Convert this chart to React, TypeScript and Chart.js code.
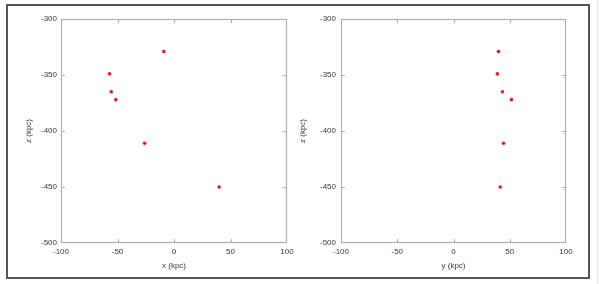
import React, { useEffect, useRef } from "react";
import { Chart, registerables } from "chart.js";

Chart.register(...registerables);

const zValues = [-329, -349, -365, -372, -411, -450];
const xValues = [-9, -57, -55.5, -51.5, -26, 40];
const yValues = [40, 39, 43.5, 51.5, 44.5, 41.5];
const axisMin = -100;
const axisMax = 100;
const zMin = -500;
const zMax = -300;
const tickStep = 50;

const FONT = "'Liberation Sans', Arial, sans-serif";

const boxPlugin = {
  id: "gnuBox",
  beforeDatasetsDraw(chart: any) {
    const { ctx, chartArea, scales } = chart;
    const { left, right, top, bottom } = chartArea;
    ctx.save();
    ctx.strokeStyle = "#b0b0b0";
    ctx.lineWidth = 1.2;
    ctx.strokeRect(left + 0.5, top + 0.5, right - left - 1, bottom - top - 1);
    const len = 4;
    ctx.beginPath();
    scales.x.ticks.forEach((t: any) => {
      if (t.value <= scales.x.min || t.value >= scales.x.max) return;
      const px = Math.round(scales.x.getPixelForValue(t.value)) + 0.5;
      ctx.moveTo(px, bottom);
      ctx.lineTo(px, bottom - len);
      ctx.moveTo(px, top);
      ctx.lineTo(px, top + len);
    });
    scales.y.ticks.forEach((t: any) => {
      if (t.value <= scales.y.min || t.value >= scales.y.max) return;
      const py = Math.round(scales.y.getPixelForValue(t.value)) + 0.5;
      ctx.moveTo(left, py);
      ctx.lineTo(left + len, py);
      ctx.moveTo(right, py);
      ctx.lineTo(right - len, py);
    });
    ctx.stroke();
    ctx.restore();
  },
};

function makeConfig(horiz: number[], xTitle: string, yAxisWidth: number, rightPad: number, yTitlePad: number, yTickPad: number) {
  const data = horiz.map((v, i) => ({ x: v, y: zValues[i] }));
  return {
    type: "scatter" as const,
    data: {
      datasets: [
        {
          data,
          pointRadius: 1.8,
          pointHoverRadius: 1.8,
          backgroundColor: "#e0161b",
          borderColor: "rgba(235,140,140,0.3)",
          borderWidth: 1,
        },
      ],
    },
    options: {
      animation: false as const,
      responsive: false,
      maintainAspectRatio: false,
      layout: { padding: { top: 19, right: rightPad, left: 0, bottom: 0 } },
      plugins: { legend: { display: false }, tooltip: { enabled: false } },
      scales: {
        x: {
          type: "linear" as const,
          min: axisMin,
          max: axisMax,
          ticks: { stepSize: tickStep, color: "#3a3a3a", font: { family: FONT, size: 8 }, padding: 4, maxRotation: 0 },
          grid: { display: false, drawTicks: false },
          border: { display: false },
          title: { display: true, text: xTitle, color: "#3a3a3a", font: { family: FONT, size: 8 }, padding: { top: 0, bottom: 13 } },
          afterFit(scale: any) {
            scale.height = 41;
          },
        },
        y: {
          type: "linear" as const,
          min: zMin,
          max: zMax,
          ticks: { stepSize: tickStep, color: "#3a3a3a", font: { family: FONT, size: 8 }, padding: yTickPad },
          grid: { display: false, drawTicks: false },
          border: { display: false },
          title: { display: true, text: "z (kpc)", color: "#3a3a3a", font: { family: FONT, size: 8 }, padding: { top: yTitlePad, bottom: 0 } },
          afterFit(scale: any) {
            scale.width = yAxisWidth;
          },
        },
      },
    },
    plugins: [boxPlugin],
  };
}

function Panel(props: { left: number; width: number; horiz: number[]; xTitle: string; yAxisWidth: number; rightPad: number; yTitlePad: number; yTickPad: number }) {
  const ref = useRef<HTMLCanvasElement | null>(null);
  useEffect(() => {
    if (!ref.current) return;
    const chart = new Chart(ref.current, makeConfig(props.horiz, props.xTitle, props.yAxisWidth, props.rightPad, props.yTitlePad, props.yTickPad) as any);
    return () => chart.destroy();
  }, []);
  return (
    <canvas
      ref={ref}
      width={props.width}
      height={284}
      style={{ position: "absolute", left: props.left, top: 0, width: props.width, height: 284 }}
    />
  );
}

export default function App() {
  return (
    <div style={{ position: "absolute", left: 0, top: 0, width: 599, height: 284, background: "#fff", overflow: "hidden" }}>
      <div
        style={{
          position: "absolute",
          left: 6,
          top: 4,
          width: 584,
          height: 275,
          border: "2px solid #555",
          boxSizing: "border-box",
        }}
      />
      <div style={{ position: "absolute", left: 597, top: 0, width: 1, height: 284, background: "#ececec" }} />
      <Panel left={0} width={300} horiz={xValues} xTitle="x (kpc)" yAxisWidth={61} rightPad={13} yTitlePad={24} yTickPad={4} />
      <Panel left={295} width={304} horiz={yValues} xTitle="y (kpc)" yAxisWidth={46} rightPad={33} yTitlePad={3} yTickPad={5} />
    </div>
  );
}
